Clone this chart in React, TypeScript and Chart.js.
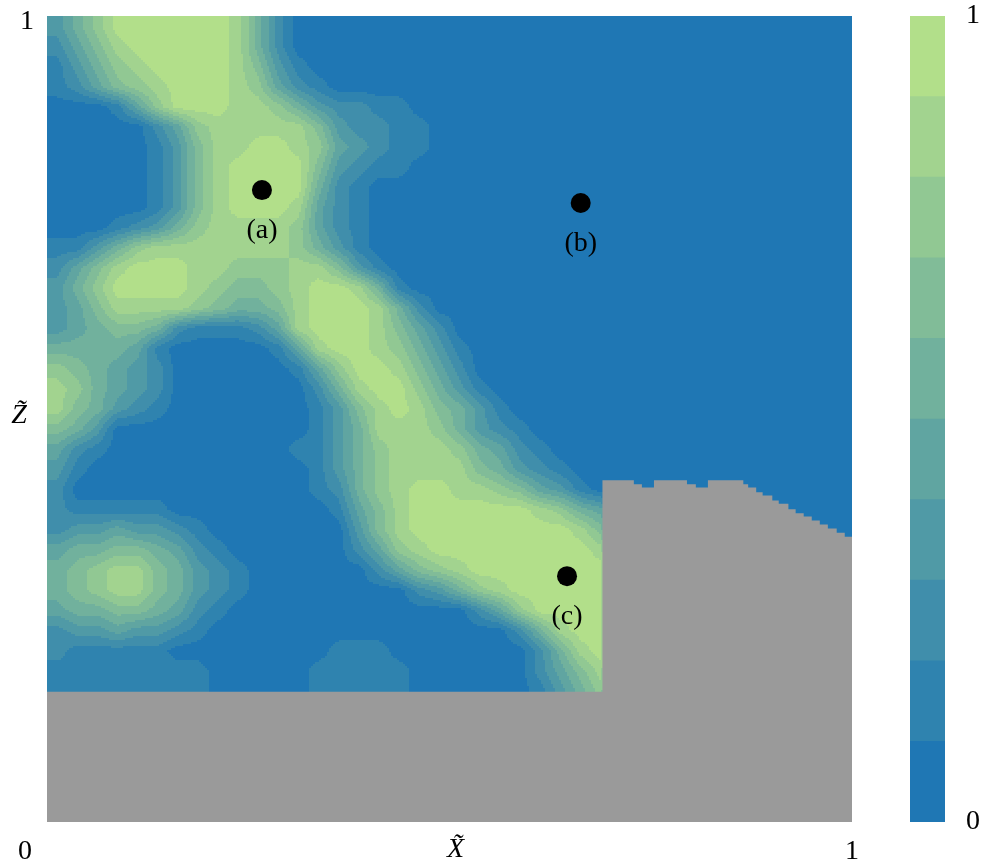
import React, { useEffect, useRef } from "react";
import { Chart, registerables } from "chart.js";

Chart.register(...registerables);

// ---- colour levels (10 filled contour bands, tab:blue -> light green)
const LEVEL_COLORS = [
  "#1f77b4", "#2f83af", "#408eab", "#509aa6", "#60a5a1",
  "#71b19d", "#81bc98", "#91c893", "#a2d38f", "#b2df8a",
];
const CB_BOUNDS = [0, 0.1, 0.2, 0.3, 0.4, 0.5, 0.6, 0.7, 0.8, 0.9, 1];
const CB_TICK_VALUES = [0, 1];
const CB_TICK_LABELS = ["0", "1"];

// ---- field samples: 40 rows (top y=1 -> bottom y=0),
// 40 columns (x=0 -> 1); each digit is the band index 0..9 at the cell centre
const FIELD_ROWS = [
  "3579999998 5200000000 0000000000 0000000000",
  "2468999998 5200000000 0000000000 0000000000",
  "1357899998 6310000000 0000000000 0000000000",
  "1246789998 7421000000 0000000000 0000000000",
  "0001479998 8753221100 0000000000 0000000000",
  "0000024788 8886322110 0000000000 0000000000",
  "0000013688 9987432110 0000000000 0000000000",
  "0000013689 9996321100 0000000000 0000000000",
  "0000013689 9995210000 0000000000 0000000000",
  "0000013689 9984210000 0000000000 0000000000",
  "0001235788 8874210000 0000000000 0000000000",
  "1135788888 8875310000 0000000000 0000000000",
  "2468999887 7788631000 0000000000 0000000000",
  "3579999876 6789985100 0000000000 0000000000",
  "3468888765 5689998520 0000000000 0000000000",
  "3456652111 2489998642 0000000000 0000000000",
  "5555410000 0148998753 1000000000 0000000000",
  "7654320000 0014799864 2000000000 0000000000",
  "8754320000 0002589975 3100000000 0000000000",
  "8653210000 0001368986 5310000000 0000000000",
  "6530000000 0001358887 5321000000 0000000000",
  "4210000000 0011357888 7542100000 0000000000",
  "3100000000 0001357888 8653210000 0000000000",
  "2000000000 0001257899 8876431000 0000000000",
  "2111110000 0000146899 9999875400 0000000000",
  "2334332100 0000036899 9999998600 0000000000",
  "4556654210 0000024789 9999999800 0000000000",
  "5678865321 0000002467 8999999900 0000000000",
  "5678865321 0000000023 5789999900 0000000000",
  "4556654210 0000000000 0247999900 0000000000",
  "2334332100 0000000000 0002589900 0000000000",
  "2111110000 0000111000 0000258900 0000000000",
  "1111111100 0001111100 0000246800 0000000000",
  "1111111100 0001111100 0000135700 0000000000",
  "0000000000 0000000000 0000000000 0000000000",
  "0000000000 0000000000 0000000000 0000000000",
  "0000000000 0000000000 0000000000 0000000000",
  "0000000000 0000000000 0000000000 0000000000",
  "0000000000 0000000000 0000000000 0000000000",
  "0000000000 0000000000 0000000000 0000000000",
];

// ---- grey (masked) region: top edge, stepwise
const MASK_EDGE_X = [
  0, 0.69, 0.729, 0.739, 0.754, 0.795, 0.806, 0.821, 0.865, 0.871, 0.881,
  0.889, 0.901, 0.909, 0.921, 0.93, 0.94, 0.95, 0.96, 0.97, 0.981, 0.991, 1,
];
const MASK_TOP = [
  0.1615, 0.424, 0.419, 0.415, 0.424, 0.419, 0.415, 0.424, 0.419, 0.415, 0.409,
  0.405, 0.399, 0.395, 0.388, 0.383, 0.379, 0.374, 0.369, 0.364, 0.359, 0.354,
];
const MASK_COLOR = "#9a9a9a";

// ---- marked points
const POINT_LABELS = ["(a)", "(b)", "(c)"];
const POINT_X = [0.267, 0.663, 0.646];
const POINT_Y = [0.784, 0.768, 0.305];

// ---- axis text
const X_TICK_LABELS = ["0", "1"];
const Y_TICK_LABELS = ["1"];
const X_TITLE = "X\u0303";
const Z_TITLE = "Z\u0303";

const SERIF = '"Liberation Serif", "Times New Roman", serif';
const FONT_PX = 28;

const heatmapPlugin = {
  id: "heatmap",
  beforeDatasetsDraw(chart: any) {
    const { ctx, scales, chartArea } = chart;
    const xs = scales.x;
    const ys = scales.y;
    const rows = FIELD_ROWS.map((r) => r.replace(/ /g, ""));
    const nr = rows.length;
    const nc = rows[0].length;
    const val = (r: number, c: number) => {
      const rr = Math.min(nr - 1, Math.max(0, r));
      const cc = Math.min(nc - 1, Math.max(0, c));
      return Number(rows[rr][cc]) + 0.5;
    };
    const step = 2;
    const left = Math.floor(chartArea.left);
    const right = Math.ceil(chartArea.right);
    const top = Math.floor(chartArea.top);
    const bottom = Math.ceil(chartArea.bottom);
    ctx.save();
    for (let py = top; py < bottom; py += step) {
      const yv = ys.getValueForPixel(py + step / 2);
      const fr = (1 - yv) * nr - 0.5;
      const r0 = Math.floor(fr);
      const ty = fr - r0;
      let runStart = left;
      let runBand = -1;
      const flush = (end: number) => {
        if (runBand < 0) return;
        ctx.fillStyle = LEVEL_COLORS[runBand];
        ctx.fillRect(runStart, py, end - runStart, Math.min(step, bottom - py));
      };
      for (let px = left; px < right; px += step) {
        const xv = xs.getValueForPixel(px + step / 2);
        const fc = xv * nc - 0.5;
        const c0 = Math.floor(fc);
        const tx = fc - c0;
        const v =
          (1 - ty) * ((1 - tx) * val(r0, c0) + tx * val(r0, c0 + 1)) +
          ty * ((1 - tx) * val(r0 + 1, c0) + tx * val(r0 + 1, c0 + 1));
        const band = Math.max(0, Math.min(LEVEL_COLORS.length - 1, Math.floor(v)));
        if (band !== runBand) {
          flush(px);
          runStart = px;
          runBand = band;
        }
      }
      flush(right);
    }
    ctx.restore();
  },
};

const labelsPlugin = {
  id: "labelsText",
  afterDatasetsDraw(chart: any) {
    const { ctx, scales, chartArea } = chart;
    const xs = scales.x;
    const ys = scales.y;
    ctx.save();
    ctx.fillStyle = "#000";
    ctx.textAlign = "center";
    ctx.textBaseline = "alphabetic";
    ctx.font = `${FONT_PX}px ${SERIF}`;
    const meta = chart.getDatasetMeta(1);
    meta.data.forEach((el: any, i: number) => {
      ctx.fillText(POINT_LABELS[i], el.x, el.y + 48);
    });
    ctx.fillText(X_TICK_LABELS[0], chartArea.left - 22, chartArea.bottom + 37);
    ctx.fillText(X_TICK_LABELS[1], xs.getPixelForValue(1), chartArea.bottom + 37);
    ctx.fillText(Y_TICK_LABELS[0], chartArea.left - 20, ys.getPixelForValue(1) + 13);
    ctx.font = `italic ${FONT_PX}px ${SERIF}`;
    ctx.fillText(X_TITLE, xs.getPixelForValue(0.5) + 6, chartArea.bottom + 35);
    ctx.fillText(Z_TITLE, chartArea.left - 28, ys.getPixelForValue(0.5) + 4);
    ctx.restore();
  },
};

const cbLabelsPlugin = {
  id: "cbLabels",
  afterDraw(chart: any) {
    const { ctx, scales, chartArea } = chart;
    const ys = scales.y;
    ctx.save();
    ctx.fillStyle = "#000";
    ctx.textAlign = "left";
    ctx.textBaseline = "middle";
    ctx.font = `${FONT_PX}px ${SERIF}`;
    CB_TICK_VALUES.forEach((v, i) => {
      ctx.fillText(CB_TICK_LABELS[i], chartArea.right + 21, ys.getPixelForValue(v));
    });
    ctx.restore();
  },
};

export default function App() {
  const mainRef = useRef<HTMLCanvasElement | null>(null);
  const cbRef = useRef<HTMLCanvasElement | null>(null);

  useEffect(() => {
    const maskPoints: { x: number; y: number }[] = [];
    for (let i = 0; i < MASK_TOP.length; i++) {
      maskPoints.push({ x: MASK_EDGE_X[i], y: MASK_TOP[i] });
      maskPoints.push({ x: MASK_EDGE_X[i + 1], y: MASK_TOP[i] });
    }
    const pts = POINT_X.map((x, i) => ({ x, y: POINT_Y[i] }));

    const main = new Chart(mainRef.current as HTMLCanvasElement, {
      type: "scatter",
      data: {
        datasets: [
          {
            type: "line",
            data: maskPoints,
            fill: "start",
            backgroundColor: MASK_COLOR,
            borderColor: MASK_COLOR,
            borderWidth: 0,
            pointRadius: 0,
            tension: 0,
            order: 2,
          } as any,
          {
            data: pts,
            backgroundColor: "#000",
            borderColor: "#000",
            pointRadius: 10,
            pointBorderWidth: 0,
            order: 1,
          },
        ],
      },
      options: {
        animation: false,
        responsive: false,
        events: [],
        layout: { padding: { left: 47, top: 16, right: 48, bottom: 43 } },
        plugins: { legend: { display: false }, tooltip: { enabled: false } },
        scales: {
          x: { type: "linear", min: 0, max: 1, display: false },
          y: { type: "linear", min: 0, max: 1, display: false },
        },
      },
      plugins: [heatmapPlugin, labelsPlugin],
    });

    const cb = new Chart(cbRef.current as HTMLCanvasElement, {
      type: "bar",
      data: {
        labels: [""],
        datasets: LEVEL_COLORS.map((c, i) => ({
          data: [[CB_BOUNDS[i], CB_BOUNDS[i + 1]]],
          backgroundColor: c,
          borderWidth: 0,
          barPercentage: 1,
          categoryPercentage: 1,
          grouped: false,
        })) as any,
      },
      options: {
        animation: false,
        responsive: false,
        events: [],
        layout: { padding: { left: 10, top: 16, right: 37, bottom: 43 } },
        plugins: { legend: { display: false }, tooltip: { enabled: false } },
        scales: {
          x: { display: false },
          y: { min: 0, max: 1, display: false },
        },
      },
      plugins: [cbLabelsPlugin],
    });

    return () => {
      main.destroy();
      cb.destroy();
    };
  }, []);

  return (
    <div style={{ position: "absolute", left: 0, top: 0, width: 982, height: 865, background: "#fff" }}>
      <canvas
        ref={mainRef}
        width={900}
        height={865}
        style={{ position: "absolute", left: 0, top: 0, width: 900, height: 865 }}
      />
      <canvas
        ref={cbRef}
        width={82}
        height={865}
        style={{ position: "absolute", left: 900, top: 0, width: 82, height: 865 }}
      />
    </div>
  );
}
